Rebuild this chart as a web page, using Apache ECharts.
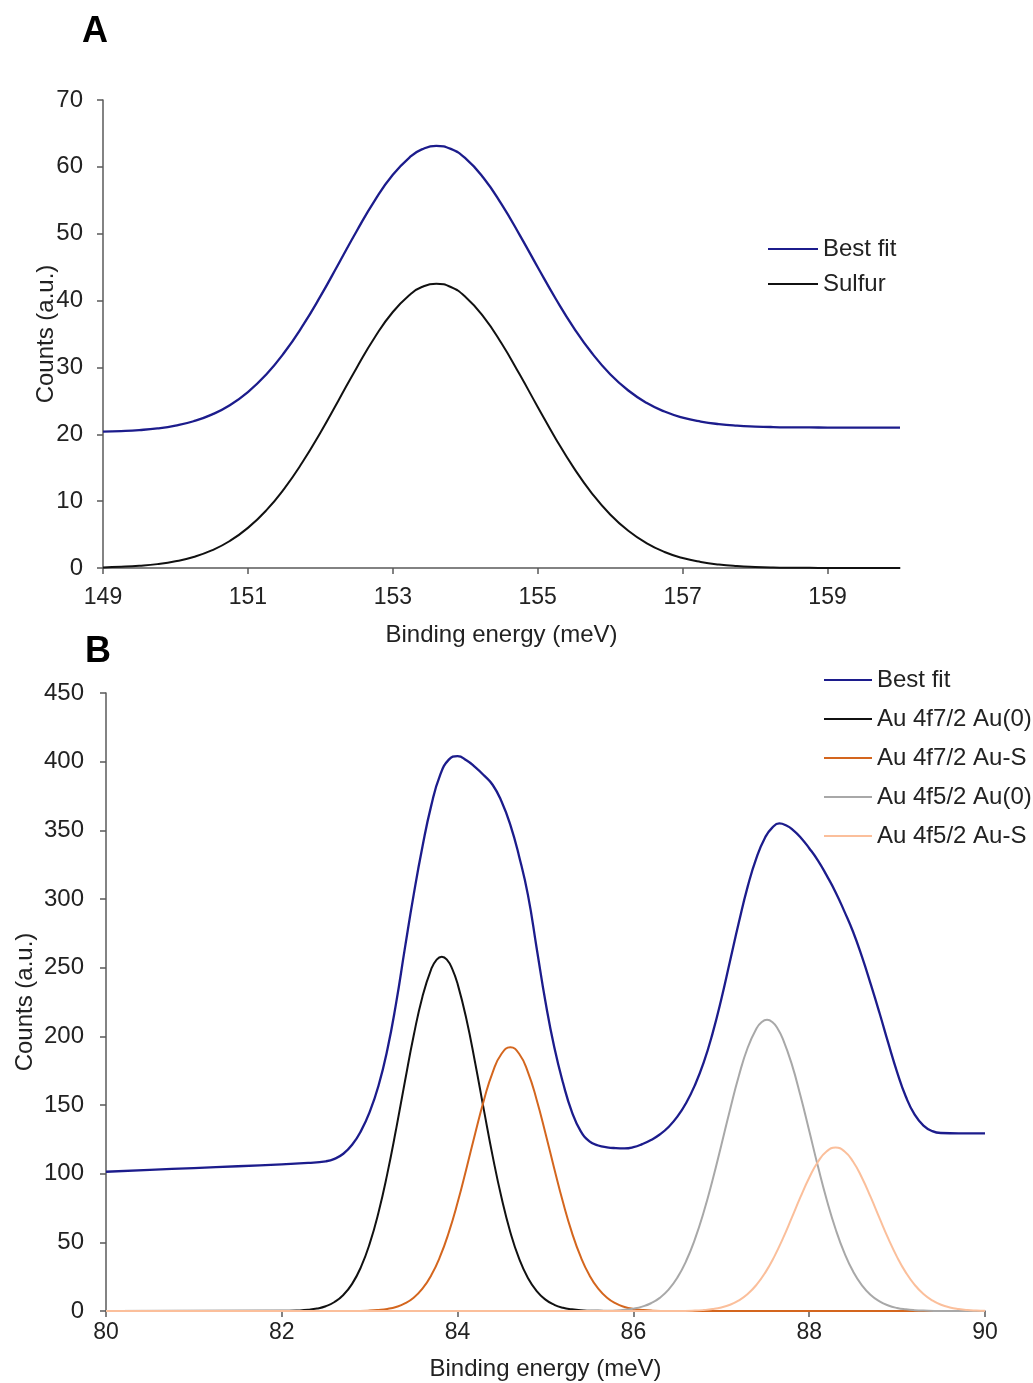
<!DOCTYPE html>
<html>
<head>
<meta charset="utf-8">
<script src="https://cdn.jsdelivr.net/npm/echarts@6/dist/echarts.min.js"></script>
<style>
html,body{margin:0;padding:0;background:#fff;}
#chart{width:1033px;height:1383px;}
</style>
</head>
<body>
<div id="chart"></div>
<script>
// ---------- Panel A data ----------
const energyA = [149,149.25,149.5,149.75,150,150.25,150.5,150.75,151,151.25,151.5,151.75,152,152.25,152.5,152.75,153,153.25,153.4,153.6,153.8,154,154.25,154.5,154.75,155,155.25,155.5,155.75,156,156.25,156.5,156.75,157,157.25,157.5,157.75,158,158.25,158.5,158.75,159,159.25,159.5,159.75,160];
const bestFitA = [20.39,20.48,20.63,20.88,21.30,21.95,22.94,24.35,26.32,28.91,32.19,36.13,40.62,45.48,50.37,54.95,58.81,61.59,62.62,63.15,62.69,61.30,58.38,54.43,49.83,44.99,40.24,35.89,32.11,28.99,26.55,24.71,23.40,22.49,21.90,21.52,21.29,21.16,21.08,21.04,21.02,21.01,21.0,21.0,21.0,21.0];
const sulfurA = [0.09,0.18,0.33,0.58,1.00,1.65,2.63,4.04,6.00,8.58,11.85,15.77,20.24,25.07,29.93,34.48,38.29,41.02,42.03,42.50,42.03,40.57,37.60,33.61,28.97,24.09,19.31,14.94,11.14,8.01,5.56,3.72,2.40,1.49,0.90,0.52,0.29,0.16,0.08,0.04,0.02,0.01,0,0,0,0];
const xTicksA = [149,151,153,155,157,159];

// ---------- Panel B data ----------
const fitBx = [80,80.5,81,81.5,82,82.3,82.5,82.6,82.7,82.8,82.9,83.0,83.1,83.2,83.3,83.4,83.5,83.6,83.7,83.8,83.9,84.0,84.1,84.2,84.3,84.4,84.5,84.6,84.7,84.8,84.9,85.0,85.1,85.2,85.3,85.4,85.5,85.6,85.7,85.8,85.9,86.0,86.1,86.2,86.3,86.4,86.5,86.6,86.7,86.8,86.9,87.0,87.1,87.2,87.3,87.4,87.5,87.58,87.66,87.74,87.82,87.9,88.0,88.1,88.2,88.3,88.4,88.5,88.6,88.7,88.8,88.9,89.0,89.1,89.2,89.3,89.4,89.5,89.7,90];
const fitBy = [101.4,102.8,104.1,105.4,106.8,107.8,109.0,110.8,114.5,121,131,145,164,190,224,264,303,338,368,390,401.5,404,401,396,390,383,371,354,331,303,264,225,192,166,145,131,123.5,120.5,119.2,118.6,118.4,119.3,121.5,124.5,128.5,134,141.5,151.5,164.5,181,202,227,255,283,309,330,345,352,355,353.5,350,345,337,328,317,305,291,276,258,238,217,195,174,156,143,135,131,129.6,129.3,129.3];

const au0_72x = [80,82.0,82.2,82.3,82.4,82.5,82.6,82.7,82.8,82.9,83.0,83.1,83.2,83.3,83.4,83.5,83.6,83.7,83.76,83.82,83.88,83.94,84.0,84.1,84.2,84.3,84.4,84.5,84.6,84.7,84.8,84.9,85.0,85.1,85.2,85.3,85.4,85.5,85.6,85.8,90];
const au0_72y = [0,0.1,0.4,0.86,1.77,3.49,6.54,11.66,19.76,31.91,49.04,71.72,99.87,132.3,166.9,200.4,228.9,249.0,255.7,258,255.7,249.0,238.2,212.6,180.6,146.1,112.4,82.4,57.4,38.1,24.1,14.5,8.3,4.5,2.3,1.2,0.5,0.2,0.1,0,0];

const auS_72x = [80,82.8,83.0,83.1,83.2,83.3,83.4,83.5,83.6,83.7,83.8,83.9,84.0,84.1,84.2,84.3,84.4,84.5,84.6,84.7,84.8,84.9,85.0,85.1,85.2,85.3,85.4,85.5,85.6,85.7,85.8,85.9,86.0,86.1,86.2,86.4,90];
const auS_72y = [0,0.05,0.3,0.74,1.52,2.96,5.49,9.68,16.26,25.98,39.53,57.26,78.93,103.6,129.3,153.7,174.0,187.3,192,187.3,174.0,153.7,129.3,103.6,78.93,57.26,39.53,25.98,16.26,9.68,5.49,2.96,1.52,0.74,0.3,0.05,0];

const au0_52x = [80,85.5,85.7,85.8,85.9,86.0,86.1,86.2,86.3,86.4,86.5,86.6,86.7,86.8,86.9,87.0,87.1,87.2,87.3,87.4,87.46,87.52,87.58,87.64,87.7,87.8,87.9,88.0,88.1,88.2,88.3,88.4,88.5,88.6,88.7,88.8,88.9,89.0,89.1,89.2,89.3,89.5,90];
const au0_52y = [0,0.02,0.2,0.4,0.9,1.73,3.18,5.63,9.56,15.56,24.3,36.38,52.28,72.04,95.21,120.7,146.8,171.3,191.7,205.7,210.4,212,210.4,205.7,198.2,180.1,156.9,131.2,105.2,80.9,59.7,42.3,28.7,18.7,11.7,7.0,4.0,2.2,1.2,0.6,0.3,0.05,0];

const auS_52x = [80,86.5,86.7,86.8,86.9,87.0,87.1,87.2,87.3,87.4,87.5,87.6,87.7,87.8,87.9,88.0,88.1,88.2,88.3,88.4,88.5,88.6,88.7,88.8,88.9,89.0,89.1,89.2,89.3,89.4,89.5,89.6,89.7,89.8,89.9,90];
const auS_52y = [0,0.05,0.3,0.7,1.41,2.6,4.57,7.69,12.37,19.03,27.95,39.25,52.68,67.58,82.85,97.07,108.7,116.3,119,116.3,108.7,97.07,82.85,67.58,52.68,39.25,27.95,19.03,12.37,7.69,4.57,2.6,1.41,0.7,0.35,0.15];

const namesA = ['Best fit','Sulfur'];
const namesB = ['Best fit','Au 4f7/2 Au(0)','Au 4f7/2 Au-S','Au 4f5/2 Au(0)','Au 4f5/2 Au-S'];

// ---------- build ----------
function zip(xs, ys){ return xs.map(function(x,i){ return [x, ys[i]]; }); }
const FONT = 'Liberation Sans, Arial, sans-serif';
const AXIS_COLOR = '#5a5a5a';
const TEXT_COLOR = '#222222';

function lineSeries(name, xi, yi, data, color, z, w){
  return {
    name: name, type: 'line', xAxisIndex: xi, yAxisIndex: yi,
    data: data, smooth: 0.5, symbol: 'none', showSymbol: false,
    lineStyle: {color: color, width: w || 2}, itemStyle: {color: color},
    z: z, animation: false
  };
}

const chart = echarts.init(document.getElementById('chart'), null, {renderer: 'canvas'});
const axisCommon = {
  axisLine: {show: true, onZero: false, lineStyle: {color: AXIS_COLOR, width: 1.5}},
  axisTick: {show: true, length: 6, lineStyle: {color: AXIS_COLOR, width: 1.5}},
  splitLine: {show: false},
  nameMoveOverlap: false,
  nameTextStyle: {fontFamily: FONT, fontSize: 24, color: TEXT_COLOR}
};

chart.setOption({
  animation: false,
  backgroundColor: '#ffffff',
  grid: [
    {left: 103, top: 100, width: 797, height: 468},
    {left: 106, top: 693, width: 879, height: 618}
  ],
  xAxis: [
    Object.assign({}, axisCommon, {
      gridIndex: 0, type: 'value', min: 149, max: 160,
      name: 'Binding energy (meV)', nameLocation: 'middle', nameGap: 55,
      axisTick: {show: true, length: 6, customValues: xTicksA, lineStyle: {color: AXIS_COLOR, width: 1.5}},
      axisLabel: {customValues: xTicksA, margin: 18, fontFamily: FONT, fontSize: 23, color: TEXT_COLOR}
    }),
    Object.assign({}, axisCommon, {
      gridIndex: 1, type: 'value', min: 80, max: 90, interval: 2,
      name: 'Binding energy (meV)', nameLocation: 'middle', nameGap: 46,
      axisLabel: {margin: 10, fontFamily: FONT, fontSize: 23, color: TEXT_COLOR}
    })
  ],
  yAxis: [
    Object.assign({}, axisCommon, {
      gridIndex: 0, type: 'value', min: 0, max: 70, interval: 10,
      name: 'Counts (a.u.)', nameLocation: 'middle', nameGap: 45, nameRotate: 90,
      axisLabel: {margin: 20, fontFamily: FONT, fontSize: 24, color: TEXT_COLOR}
    }),
    Object.assign({}, axisCommon, {
      gridIndex: 1, type: 'value', min: 0, max: 450, interval: 50,
      name: 'Counts (a.u.)', nameLocation: 'middle', nameGap: 69, nameRotate: 90,
      axisLabel: {margin: 22, fontFamily: FONT, fontSize: 24, color: TEXT_COLOR}
    })
  ],
  legend: [
    {
      data: namesA, orient: 'vertical', left: 763, top: 232,
      itemWidth: 50, itemHeight: 2, itemGap: 11, icon: 'rect',
      textStyle: {fontFamily: FONT, fontSize: 24, color: TEXT_COLOR, lineHeight: 24},
      selectedMode: false
    },
    {
      data: namesB, orient: 'vertical', left: 819, top: 663,
      itemWidth: 48, itemHeight: 2, itemGap: 15, icon: 'rect',
      textStyle: {fontFamily: FONT, fontSize: 24, color: TEXT_COLOR, lineHeight: 24},
      selectedMode: false
    }
  ],
  graphic: [
    {type: 'text', left: 82, top: 14, style: {text: 'A', font: 'bold 36px ' + FONT, fill: '#000'}},
    {type: 'text', left: 85, top: 634, style: {text: 'B', font: 'bold 36px ' + FONT, fill: '#000'}}
  ],
  series: [
    lineSeries('Best fit', 0, 0, zip(energyA, bestFitA), '#1c1c8c', 3, 2.3),
    lineSeries('Sulfur', 0, 0, zip(energyA, sulfurA), '#111111', 4),
    lineSeries('Best fit', 1, 1, zip(fitBx, fitBy), '#1c1c8c', 3, 2.3),
    lineSeries('Au 4f7/2 Au(0)', 1, 1, zip(au0_72x, au0_72y), '#111111', 4),
    lineSeries('Au 4f7/2 Au-S', 1, 1, zip(auS_72x, auS_72y), '#d4661e', 5),
    lineSeries('Au 4f5/2 Au(0)', 1, 1, zip(au0_52x, au0_52y), '#a8a8a8', 6),
    lineSeries('Au 4f5/2 Au-S', 1, 1, zip(auS_52x, auS_52y), '#fbbf9b', 7)
  ]
});
</script>
</body>
</html>
